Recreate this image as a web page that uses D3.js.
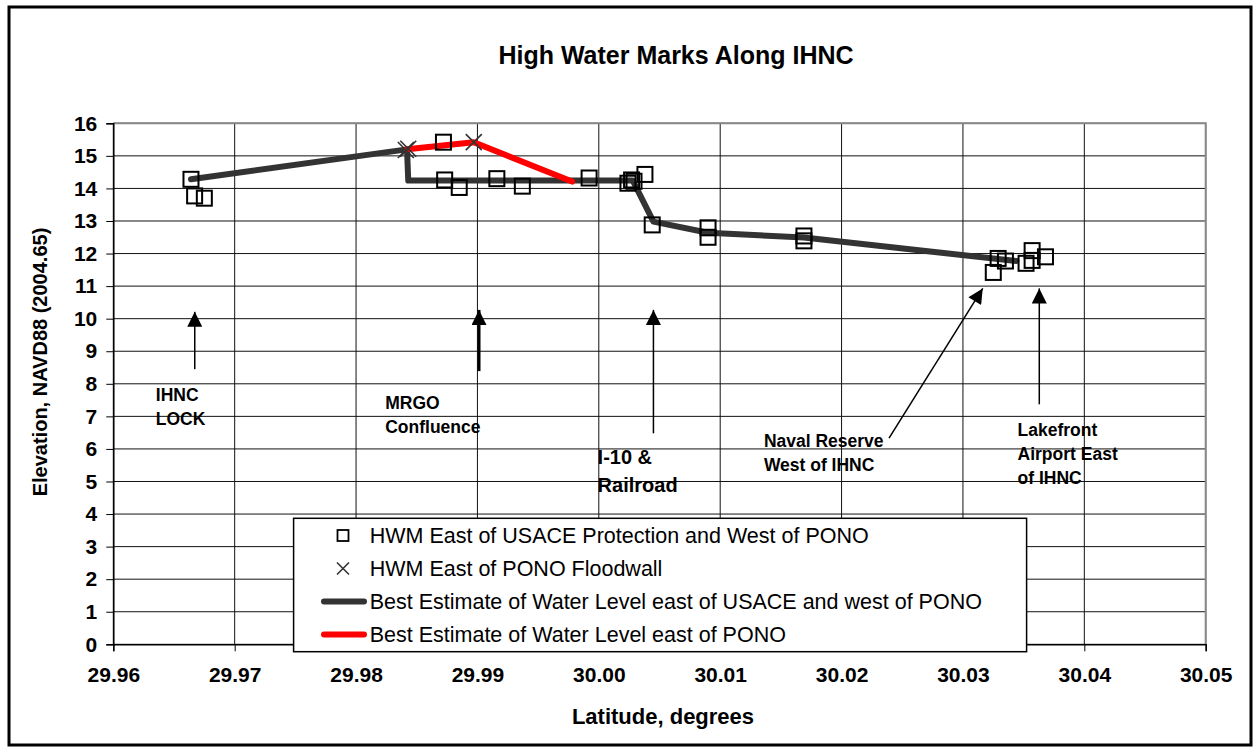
<!DOCTYPE html>
<html>
<head>
<meta charset="utf-8"/>
<title>High Water Marks Along IHNC</title>
<script src="https://d3js.org/d3.v7.min.js"></script>
<style>
  body { margin: 0; background: #fff; }
  svg text { font-family: "Liberation Sans", Arial, sans-serif; fill: #000; }
</style>
</head>
<body>
<div id="chart"></div>
<script>
// ---- data ----
var xTicks = [29.96, 29.97, 29.98, 29.99, 30.00, 30.01, 30.02, 30.03, 30.04, 30.05];
var yTicks = d3.range(0, 17);

// HWM East of USACE Protection and West of PONO (squares)
var squareLat  = [29.9664, 29.9667, 29.9675, 29.9872, 29.9873, 29.9885, 29.9916, 29.9937, 29.9992,
                  30.0024, 30.0027, 30.0029, 30.0038, 30.0044, 30.0090, 30.0090, 30.0169, 30.0169,
                  30.0325, 30.0329, 30.0335, 30.0352, 30.0357, 30.0357, 30.0368];
var squareElev = [14.28, 13.77, 13.70, 15.42, 14.26, 14.03, 14.30, 14.07, 14.32,
                  14.16, 14.26, 14.22, 14.43, 12.88, 12.79, 12.50, 12.54, 12.39,
                  11.42, 11.85, 11.77, 11.70, 12.09, 11.79, 11.90];

// HWM East of PONO Floodwall (crosses)
var crossLat  = [29.9841, 29.9843, 29.9897];
var crossElev = [15.18, 15.22, 15.42];

// Best estimate east of USACE and west of PONO (dark line)
var darkLat  = [29.9664, 29.9842, 29.9843, 30.0028, 30.0045, 30.0090, 30.0169, 30.0344];
var darkElev = [14.28, 15.20, 14.24, 14.24, 12.98, 12.64, 12.49, 11.77];

// Best estimate east of PONO (red line)
var redLat  = [29.9842, 29.9897, 29.9978];
var redElev = [15.20, 15.42, 14.21];

// annotations: label lines, text anchor (lat, elev), arrow tail and tip (lat, elev)
var noteText  = [["IHNC", "LOCK"], ["MRGO", "Confluence"], ["I-10 &", "Railroad"],
                 ["Naval Reserve", "West of IHNC"], ["Lakefront", "Airport East", "of IHNC"]];
var noteLat   = [29.9635, 29.9824, 29.9999, 30.0136, 30.0345];
var noteElev  = [7.47, 7.22, 5.54, 6.07, 6.41];
var arrowFrom = [[29.96671, 8.45], [29.99013, 8.39], [30.00450, 6.48], [30.02391, 6.33], [30.03629, 7.37]];
var arrowTo   = [[29.96671, 10.21], [29.99013, 10.27], [30.00450, 10.27], [30.03163, 10.93], [30.03629, 10.93]];

var legendLabels = ["HWM East of USACE Protection and West of PONO",
                    "HWM East of PONO Floodwall",
                    "Best Estimate of Water Level east of USACE and west of PONO",
                    "Best Estimate of Water Level east of PONO"];

// ---- layout ----
var W = 1257, H = 751;
var plot = {left: 113.3, right: 1205.7, top: 123.3, bottom: 644.3};

var svg = d3.select("#chart").append("svg")
    .attr("width", W).attr("height", H);

// outer chart border
svg.append("rect")
    .attr("x", 9).attr("y", 7).attr("width", 1242).attr("height", 738)
    .attr("fill", "#fff").attr("stroke", "#000").attr("stroke-width", 3);

var x = d3.scaleLinear().domain([29.96, 30.05]).range([plot.left, plot.right]);
var y = d3.scaleLinear().domain([0, 16]).range([plot.bottom, plot.top]);

// gridlines
svg.append("g").selectAll("line").data(yTicks).enter().append("line")
    .attr("x1", plot.left).attr("x2", plot.right)
    .attr("y1", d => y(d)).attr("y2", d => y(d))
    .attr("stroke", "#111").attr("stroke-width", 1);
svg.append("g").selectAll("line").data(xTicks).enter().append("line")
    .attr("y1", plot.top).attr("y2", plot.bottom)
    .attr("x1", d => x(d)).attr("x2", d => x(d))
    .attr("stroke", "#111").attr("stroke-width", 1);

// plot border (top/right grey)
svg.append("path")
    .attr("d", "M" + plot.left + "," + plot.top + "H" + plot.right + "V" + plot.bottom)
    .attr("fill", "none").attr("stroke", "#888").attr("stroke-width", 2);

// axes
var xAxis = svg.append("g")
    .attr("transform", "translate(0," + plot.bottom + ")")
    .call(d3.axisBottom(x).tickValues(xTicks).tickSize(7).tickPadding(16)
        .tickFormat(d3.format(".2f")));
var yAxis = svg.append("g")
    .attr("transform", "translate(" + plot.left + ",0)")
    .call(d3.axisLeft(y).tickValues(yTicks).tickSize(7).tickPadding(9));
[xAxis, yAxis].forEach(function(g) {
    g.select(".domain").attr("stroke", "#000").attr("stroke-width", 1.5);
    g.selectAll(".tick line").attr("stroke", "#000").attr("stroke-width", 1);
    g.selectAll(".tick text")
        .style("font-family", '"Liberation Sans", Arial, sans-serif')
        .style("font-size", "21px").style("font-weight", "bold").attr("fill", "#000");
});

// titles
svg.append("text").attr("x", 676).attr("y", 64).attr("text-anchor", "middle")
    .style("font-size", "25px").style("font-weight", "bold")
    .text("High Water Marks Along IHNC");
svg.append("text").attr("x", 663).attr("y", 724).attr("text-anchor", "middle")
    .style("font-size", "22px").style("font-weight", "bold")
    .text("Latitude, degrees");
svg.append("text").attr("transform", "translate(47,362) rotate(-90)")
    .attr("text-anchor", "middle")
    .style("font-size", "20px").style("font-weight", "bold")
    .text("Elevation, NAVD88 (2004.65)");

// lines
var line = d3.line().x(d => x(d[0])).y(d => y(d[1]));
svg.append("path")
    .datum(d3.zip(darkLat, darkElev))
    .attr("d", line).attr("fill", "none")
    .attr("stroke", "#333").attr("stroke-width", 6)
    .attr("stroke-linejoin", "round").attr("stroke-linecap", "round");
svg.append("path")
    .datum(d3.zip(redLat, redElev))
    .attr("d", line).attr("fill", "none")
    .attr("stroke", "#ff0000").attr("stroke-width", 6)
    .attr("stroke-linejoin", "round").attr("stroke-linecap", "round");

// markers
var sq = 15;
svg.append("g").selectAll("rect").data(d3.zip(squareLat, squareElev)).enter().append("rect")
    .attr("x", d => x(d[0]) - sq / 2).attr("y", d => y(d[1]) - sq / 2)
    .attr("width", sq).attr("height", sq)
    .attr("fill", "none").attr("stroke", "#000").attr("stroke-width", 2);

var cr = 8;
svg.append("g").selectAll("path").data(d3.zip(crossLat, crossElev)).enter().append("path")
    .attr("d", function(d) {
        var cx = x(d[0]), cy = y(d[1]);
        return "M" + (cx - cr) + "," + (cy - cr) + "L" + (cx + cr) + "," + (cy + cr) +
               "M" + (cx - cr) + "," + (cy + cr) + "L" + (cx + cr) + "," + (cy - cr);
    })
    .attr("fill", "none").attr("stroke", "#333").attr("stroke-width", 1.6);

// annotation arrows
svg.append("defs").append("marker")
    .attr("id", "head").attr("viewBox", "0 0 10 10")
    .attr("refX", 10).attr("refY", 5)
    .attr("markerUnits", "userSpaceOnUse")
    .attr("markerWidth", 17).attr("markerHeight", 15)
    .attr("orient", "auto")
    .append("path").attr("d", "M0,0L10,5L0,10Z").attr("fill", "#000");

arrowFrom.forEach(function(f, i) {
    var t = arrowTo[i];
    svg.append("line")
        .attr("x1", x(f[0])).attr("y1", y(f[1]))
        .attr("x2", x(t[0])).attr("y2", y(t[1]))
        .attr("stroke", "#000").attr("stroke-width", i === 1 ? 3 : 1.5)
        .attr("marker-end", "url(#head)");
});

// annotation labels
noteText.forEach(function(lines, i) {
    var big = i === 2;
    var t = svg.append("text")
        .attr("x", x(noteLat[i])).attr("y", y(noteElev[i]))
        .style("font-size", big ? "20px" : "17.5px").style("font-weight", "bold");
    lines.forEach(function(s, j) {
        t.append("tspan").attr("x", x(noteLat[i]))
            .attr("dy", j === 0 ? 0 : (big ? 27.7 : 24.3)).text(s);
    });
});

// legend
var lg = svg.append("g");
lg.append("rect")
    .attr("x", 293.6).attr("y", 518.3).attr("width", 733).attr("height", 133.4)
    .attr("fill", "#fff").attr("stroke", "#000").attr("stroke-width", 1.5);
var rowY = [535.5, 568.5, 601.5, 634.5];
legendLabels.forEach(function(s, i) {
    var cy = rowY[i];
    if (i === 0) {
        lg.append("rect").attr("x", 343 - 5.5).attr("y", cy - 5.5)
            .attr("width", 11).attr("height", 11)
            .attr("fill", "none").attr("stroke", "#000").attr("stroke-width", 1.8);
    } else if (i === 1) {
        lg.append("path")
            .attr("d", "M337,563L349,575M337,575L349,563".replace(/563/g, cy - 6).replace(/575/g, cy + 6))
            .attr("fill", "none").attr("stroke", "#333").attr("stroke-width", 1.6);
    } else {
        lg.append("line").attr("x1", 324).attr("x2", 364).attr("y1", cy).attr("y2", cy)
            .attr("stroke", i === 2 ? "#333" : "#ff0000").attr("stroke-width", 6)
            .attr("stroke-linecap", "round");
    }
    lg.append("text").attr("x", 369.7).attr("y", cy).attr("dy", "0.36em")
        .style("font-size", "21.5px").text(s);
});
</script>
</body>
</html>
